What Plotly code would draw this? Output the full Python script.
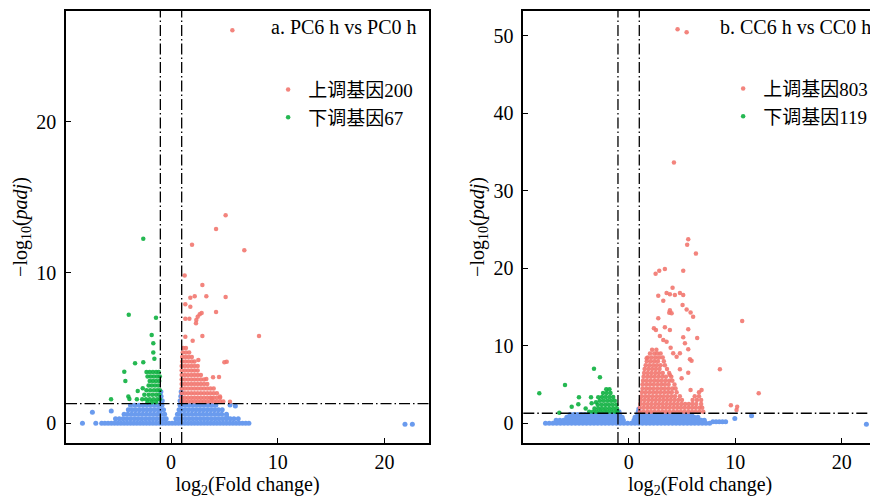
import plotly.graph_objects as go

# ---------------- data ----------------
# Panel a: PC6 h vs PC0 h  -- rows given as (y, [x values])
a_blue_rows = [
    (0.0, [-8.3, -7.05, -6.5, -6.2, -5.9, -5.6, -5.3, -5.0, -4.7, -4.4, -4.1, -3.8, -3.5, -3.2,
           -2.9, -2.6, -2.3, -2.0, -1.7, -1.4, -1.1, -0.8, -0.5, -0.2, 0.1, 0.4, 0.7, 1.0, 1.3,
           1.6, 1.9, 2.2, 2.5, 2.8, 3.1, 3.4, 3.7, 4.0, 4.3, 4.6, 4.9, 5.2, 5.5, 5.8, 6.1, 6.4,
           6.7, 7.0, 7.3]),
    (0.3, [-5.2, -4.85, -4.5, -4.15, -3.8, -3.45, -3.1, -2.75, -2.4, -2.05, -1.7, -1.35, -1.0,
           -0.7, -0.45, 0.45, 0.7, 1.0, 1.35, 1.7, 2.05, 2.4, 2.75, 3.1, 3.45, 3.8, 4.15, 4.5,
           4.85, 5.2, 5.55, 5.9, 6.3]),
    (0.6, [-4.4, -4.05, -3.7, -3.35, -3.0, -2.65, -2.3, -1.95, -1.6, -1.25, -0.95, -0.6, 0.6,
           0.9, 1.25, 1.6, 1.95, 2.3, 2.65, 3.0, 3.35, 3.7, 4.05, 4.4, 4.75, 5.2]),
    (0.9, [-4.0, -3.65, -3.3, -2.95, -2.6, -2.25, -1.9, -1.55, -1.2, -0.95, -0.7, 0.75, 0.98,
           1.3, 1.65, 2.0, 2.35, 2.7, 3.05, 3.4, 3.75, 4.1, 4.45, 4.8]),
    (1.2, [-3.8, -3.4, -3.0, -2.65, -2.3, -1.95, -1.6, -1.3, -1.05, -0.85, 0.85, 1.05, 1.4,
           1.75, 2.1, 2.45, 2.8, 3.15, 3.5, 3.85, 4.2]),
    (1.5, [-0.95, -0.82, 0.85, 0.97]),
    (1.8, [-0.93, 0.92]),
    (2.1, [-0.95, 0.95]),
]
a_blue_extra = [(-7.37, 0.73), (-5.6, 0.82), (5.22, 0.44), (6.03, 1.15), (5.53, 1.21),
                (21.93, -0.07), (22.62, -0.07)]

a_green_rows = [
    (3.4, [-2.3, -2.0, -1.7, -1.4, -1.15]),
    (3.1, [-2.2, -1.9, -1.6, -1.3, -1.05]),
    (2.8, [-2.0, -1.7, -1.4, -1.1]),
    (2.5, [-2.1, -1.8, -1.5, -1.2]),
    (2.2, [-2.3, -1.95, -1.6, -1.3, -1.05]),
    (1.9, [-2.5, -2.1, -1.75, -1.4, -1.1]),
    (1.6, [-2.7, -2.35, -2.0, -1.65, -1.3, -1.05]),
    (1.4, [-2.2, -1.8, -1.4]),
]
a_green_extra = [(-2.6, 12.25), (-3.96, 7.21), (-1.41, 7.01), (-1.81, 5.86), (-1.66, 5.31),
                 (-1.66, 4.69), (-1.56, 4.29), (-3.37, 3.98), (-2.6, 4.05), (-4.38, 3.42),
                 (-4.28, 2.81), (-2.65, 2.32), (-3.12, 2.14), (-5.62, 1.59), (-4.0, 1.77),
                 (-3.9, 1.61), (-3.2, 1.59)]

a_red_rows = [
    (5.0, [1.15, 1.4]),
    (4.7, [1.1, 1.4, 1.7]),
    (4.4, [1.05, 1.35, 1.65, 1.95]),
    (4.1, [1.05, 1.35, 1.65, 1.95, 2.2]),
    (3.8, [1.0, 1.3, 1.6, 1.9, 2.2, 2.5]),
    (3.5, [1.0, 1.3, 1.6, 1.9, 2.2, 2.5]),
    (3.2, [1.0, 1.3, 1.6, 1.9, 2.2, 2.5, 2.8]),
    (2.9, [1.0, 1.3, 1.6, 1.9, 2.2, 2.5, 2.8, 3.1]),
    (2.6, [1.0, 1.3, 1.6, 1.9, 2.2, 2.5, 2.8, 3.1, 3.4]),
    (2.3, [1.0, 1.3, 1.6, 1.9, 2.2, 2.5, 2.8, 3.1, 3.4, 3.7, 4.0]),
    (2.0, [1.0, 1.3, 1.6, 1.9, 2.2, 2.5, 2.8, 3.1, 3.4, 3.7, 4.0, 4.3]),
    (1.7, [1.0, 1.3, 1.6, 1.9, 2.2, 2.5, 2.8, 3.1, 3.4, 3.7, 4.0, 4.3, 4.6]),
    (1.45, [1.0, 1.3, 1.6, 1.9, 2.2, 2.5, 2.8, 3.1, 3.4, 3.7, 4.0, 4.3, 4.6, 4.9]),
]
a_red_extra = [(5.75, 26.08), (5.12, 13.8), (4.22, 12.9), (1.97, 11.85), (6.87, 11.48),
               (1.28, 9.8), (2.94, 9.18), (1.81, 8.33), (2.22, 8.43), (3.31, 8.43), (5.12, 8.38),
               (1.34, 7.9), (1.81, 7.74), (4.22, 7.39), (2.69, 7.23), (2.87, 7.32), (2.5, 7.07),
               (2.37, 6.85), (2.34, 6.64), (1.34, 6.94), (1.72, 6.94), (8.25, 5.79), (2.94, 5.79),
               (1.34, 5.75), (2.03, 5.48), (5.22, 4.09), (5.0, 4.05), (2.56, 4.2), (3.31, 2.94),
               (3.94, 3.05), (4.5, 3.07), (3.81, 1.66), (4.59, 1.77), (5.53, 1.43)]

# Panel b: CC6 h vs CC0 h
b_blue_rows = [
    (0.0, [-7.8, -7.45, -7.1, -6.75, -6.4, -6.05, -5.7, -5.35, -5.0, -4.65, -4.3, -3.95, -3.6,
           -3.25, -2.9, -2.55, -2.2, -1.85, -1.5, -1.15, -0.8, -0.45, -0.1, 0.25, 0.6, 0.95,
           1.3, 1.65, 2.0, 2.35, 2.7, 3.05, 3.4, 3.75, 4.1, 4.45, 4.8, 5.15, 5.5, 5.85, 6.2,
           6.55, 6.9, 7.25, 7.6]),
    (0.2, [7.9, 8.2, 8.5, 8.8, 9.1]),
    (0.4, [-6.8, -6.45, -6.1, -5.75, -5.4, -5.05, -4.7, -4.35, -4.0, -3.65, -3.3, -2.95, -2.6,
           -2.25, -1.9, -1.55, -1.2, -0.85, -0.5, 0.5, 0.85, 1.2, 1.55, 1.9, 2.25, 2.6, 2.95,
           3.3, 3.65, 4.0, 4.35, 4.7, 5.05, 5.4, 5.75, 6.1, 6.45, 6.8, 7.1]),
    (0.8, [-5.8, -5.45, -5.1, -4.75, -4.4, -4.05, -3.7, -3.35, -3.0, -2.65, -2.3, -1.95, -1.6,
           -1.25, -0.9, -0.6, 0.6, 0.9, 1.25, 1.6, 1.95, 2.3, 2.65, 3.0, 3.35, 3.7, 4.05, 4.4,
           4.75, 5.1, 5.45, 5.8, 6.15, 6.5]),
    (1.15, [-5.5, -5.15, -4.8, -4.45, -4.1, -3.75, -3.4, -3.05, -2.7, -2.35, -2.0, -1.65, -1.3,
            -1.0, -0.85, 0.85, 1.05, 1.4, 1.75, 2.1, 2.45, 2.8, 3.15, 3.5, 3.85, 4.2, 4.55,
            4.9, 5.25, 5.6, 5.9]),
    (1.5, [-0.9, 0.9]),
    (1.85, [0.95]),
]
b_blue_extra = [(9.96, 0.64), (11.53, 0.98), (22.3, -0.13)]

b_green_rows = [
    (4.4, [-2.1, -1.8]),
    (3.9, [-2.4, -2.05, -1.7]),
    (3.4, [-2.5, -2.15, -1.8, -1.45]),
    (2.9, [-2.7, -2.35, -2.0, -1.65, -1.3]),
    (2.4, [-2.9, -2.55, -2.2, -1.85, -1.5, -1.15]),
    (1.9, [-3.2, -2.85, -2.5, -2.15, -1.8, -1.45, -1.1]),
    (1.5, [-3.7, -3.35, -3.0, -2.65, -2.3, -1.95, -1.6, -1.25, -1.05]),
]
b_green_extra = [(-8.38, 3.87), (-5.97, 4.94), (-3.25, 7.05), (-2.69, 5.94), (-6.5, 1.35),
                 (-4.66, 3.35), (-4.72, 2.45), (-5.34, 2.15), (-4.03, 1.93), (-3.53, 3.35),
                 (-3.47, 2.58), (-3.06, 2.71), (-2.85, 3.35)]

b_red_rows = [
    (1.5, [1.05, 1.4, 1.75, 2.1, 2.45, 2.8, 3.15, 3.5, 3.85, 4.2, 4.55, 4.9, 5.25, 5.6, 5.95,
           6.3, 6.65, 7.0]),
    (2.0, [1.05, 1.4, 1.75, 2.1, 2.45, 2.8, 3.15, 3.5, 3.85, 4.2, 4.55, 4.9, 5.25, 5.6, 5.95,
           6.3, 6.65, 6.9]),
    (2.5, [1.1, 1.45, 1.8, 2.15, 2.5, 2.85, 3.2, 3.55, 3.9, 4.25, 4.6, 4.95, 5.3, 5.65, 6.0,
           6.35, 6.8]),
    (3.0, [1.15, 1.5, 1.85, 2.2, 2.55, 2.9, 3.25, 3.6, 3.95, 4.3, 4.65, 5.0, 6.0, 6.4, 6.8]),
    (3.5, [1.2, 1.55, 1.9, 2.25, 2.6, 2.95, 3.3, 3.65, 4.0, 4.35, 4.8, 6.2, 6.6]),
    (4.0, [1.25, 1.6, 1.95, 2.3, 2.65, 3.0, 3.35, 3.7, 4.05, 4.5, 6.6]),
    (4.5, [1.3, 1.65, 2.0, 2.35, 2.7, 3.05, 3.4, 3.75, 4.1, 4.4]),
    (5.0, [1.3, 1.65, 2.0, 2.35, 2.7, 3.05, 3.4, 3.75, 4.3]),
    (5.5, [1.35, 1.7, 2.05, 2.4, 2.75, 3.1, 3.45, 3.8, 4.1]),
    (6.0, [1.4, 1.75, 2.1, 2.45, 2.8, 3.15, 3.5, 4.0]),
    (6.5, [1.45, 1.8, 2.15, 2.5, 2.85, 3.2, 3.8]),
    (7.0, [1.5, 1.85, 2.2, 2.55, 2.9, 3.6]),
    (7.5, [1.6, 1.95, 2.3, 2.65, 3.0, 3.4]),
    (8.0, [1.7, 2.05, 2.4, 2.75, 3.3]),
    (8.5, [1.8, 2.15, 2.5, 2.85, 3.2]),
    (9.0, [2.0, 2.4, 2.7, 3.0]),
    (9.5, [2.2, 2.6]),
]
b_red_extra = [(4.59, 50.86), (5.44, 50.47), (4.25, 33.64), (5.59, 23.75), (5.49, 23.05),
               (6.31, 21.9), (2.53, 19.3), (2.87, 19.7), (3.4, 19.9), (5.12, 19.7), (4.12, 17.5),
               (3.56, 16.8), (3.87, 16.65), (4.34, 16.56), (4.81, 16.8), (5.12, 16.56),
               (2.78, 16.47), (3.25, 15.83), (3.87, 14.6), (4.03, 14.2), (3.81, 14.28),
               (5.06, 15.27), (5.44, 14.7), (5.81, 14.3), (6.05, 13.76), (2.78, 13.55),
               (10.65, 13.2), (2.37, 12.26), (2.56, 12.04), (3.4, 12.39), (3.87, 12.04),
               (5.59, 12.13), (6.43, 11.0), (2.93, 11.27), (3.25, 10.75), (3.56, 10.53),
               (5.12, 11.1), (5.28, 10.33), (5.59, 9.55), (5.75, 8.26), (5.9, 8.08),
               (3.94, 9.76), (4.18, 9.03), (4.5, 8.6), (4.81, 9.03), (4.81, 6.97), (5.59, 6.53),
               (4.97, 5.81), (8.56, 6.97), (12.2, 3.87), (1.69, 8.39), (3.87, 6.23), (5.81, 4.3),
               (6.84, 4.3), (9.59, 2.32), (10.12, 1.72), (10.18, 2.14)]

panel_titles = ["a. PC6 h vs PC0 h", "b. CC6 h vs CC0 h"]
up_labels = ["上调基因200", "上调基因803"]
down_labels = ["下调基因67", "下调基因119"]
fc_cut = [-1, 1]
padj_cut = 1.301
a_xticks = [0, 10, 20]
a_yticks = [0, 10, 20]
b_xticks = [0, 10, 20]
b_yticks = [0, 10, 20, 30, 40, 50]

# ---------------- helpers ----------------
def flatten(rows, extra):
    xs, ys = [], []
    for y, xl in rows:
        for x in xl:
            xs.append(x)
            ys.append(y)
    for x, y in extra:
        xs.append(x)
        ys.append(y)
    return xs, ys

RED = "#F2776F"
GREEN = "#0DB03F"
BLUE = "#6A9BEE"
FONT = "Liberation Serif, 'Times New Roman', 'Noto Sans CJK SC', serif"
FS = 20
LFS = 19

fig = go.Figure()

panels = [
    dict(blue=(a_blue_rows, a_blue_extra), green=(a_green_rows, a_green_extra),
         red=(a_red_rows, a_red_extra), xa="x", ya="y", legend="legend"),
    dict(blue=(b_blue_rows, b_blue_extra), green=(b_green_rows, b_green_extra),
         red=(b_red_rows, b_red_extra), xa="x2", ya="y2", legend="legend2"),
]

for i, p in enumerate(panels):
    bx, by = flatten(*p["blue"])
    gx, gy = flatten(*p["green"])
    rx, ry = flatten(*p["red"])
    fig.add_trace(go.Scatter(x=bx, y=by, mode="markers", xaxis=p["xa"], yaxis=p["ya"],
                             marker=dict(color=BLUE, size=5, line=dict(width=0)),
                             showlegend=False, hoverinfo="skip"))
    fig.add_trace(go.Scatter(x=rx, y=ry, mode="markers", xaxis=p["xa"], yaxis=p["ya"],
                             marker=dict(color=RED, size=4.5, opacity=0.9, line=dict(width=0)),
                             name=up_labels[i], legend=p["legend"]))
    fig.add_trace(go.Scatter(x=gx, y=gy, mode="markers", xaxis=p["xa"], yaxis=p["ya"],
                             marker=dict(color=GREEN, size=4.5, opacity=0.9, line=dict(width=0)),
                             name=down_labels[i], legend=p["legend"]))

DASH = "11px,3px,1.5px,3px"
shapes = []
for xref, yref in [("x", "y domain"), ("x2", "y2 domain")]:
    for c in fc_cut:
        shapes.append(dict(type="line", xref=xref, yref=yref, x0=c, x1=c, y0=0, y1=1,
                           line=dict(color="black", width=1.3, dash=DASH)))
for xref, yref in [("x domain", "y"), ("x2 domain", "y2")]:
    shapes.append(dict(type="line", xref=xref, yref=yref, x0=0, x1=1, y0=padj_cut, y1=padj_cut,
                       line=dict(color="black", width=1.3, dash=DASH)))

axis_common = dict(showline=True, linecolor="black", linewidth=1.5, mirror=True,
                   ticks="inside", ticklen=5, tickwidth=1.2, tickcolor="black",
                   showgrid=False, zeroline=False, automargin=False,
                   tickfont=dict(family=FONT, size=FS, color="black"))

ytitle = "−log<sub>10</sub>(<i>padj</i>)"
xtitle = "log<sub>2</sub>(Fold change)"

# page body has an 8px margin, so the figure is 870x490 starting at (8, 8)
fig.update_layout(
    width=870, height=490,
    margin=dict(l=0, r=0, t=0, b=0),
    paper_bgcolor="white", plot_bgcolor="white",
    font=dict(family=FONT, color="black"),
    shapes=shapes,
    xaxis=dict(domain=[0.0667, 0.4839], range=[-9.84, 24.18], tickvals=a_xticks,
               ticklabelstandoff=0,
               title=dict(text=xtitle, font=dict(family=FONT, size=FS), standoff=2),
               anchor="y", **axis_common),
    yaxis=dict(domain=[0.1122, 0.9939], range=[-1.31, 27.36], tickvals=a_yticks,
               ticklabelstandoff=4,
               title=dict(text=ytitle, font=dict(family=FONT, size=FS), standoff=3),
               anchor="x", **axis_common),
    xaxis2=dict(domain=[0.5923, 0.9989], range=[-9.88, 23.3], tickvals=b_xticks,
                ticklabelstandoff=0,
                title=dict(text=xtitle, font=dict(family=FONT, size=FS), standoff=2),
                anchor="y2", **axis_common),
    yaxis2=dict(domain=[0.1122, 0.9939], range=[-2.54, 53.2], tickvals=b_yticks,
                ticklabelstandoff=4,
                title=dict(text=ytitle, font=dict(family=FONT, size=FS), standoff=4),
                anchor="x2", **axis_common),
    legend=dict(x=0.299, y=0.872, xanchor="left", yanchor="top", bgcolor="rgba(0,0,0,0)",
                font=dict(family=FONT, size=LFS), itemsizing="trace", tracegroupgap=0),
    legend2=dict(x=0.822, y=0.874, xanchor="left", yanchor="top", bgcolor="rgba(0,0,0,0)",
                 font=dict(family=FONT, size=LFS), itemsizing="trace", tracegroupgap=0),
    annotations=[
        dict(text=panel_titles[0], xref="paper", yref="paper", x=0.4724, y=0.961,
             xanchor="right", yanchor="middle", showarrow=False,
             font=dict(family=FONT, size=FS, color="black")),
        dict(text=panel_titles[1], xref="paper", yref="paper", x=0.9943, y=0.961,
             xanchor="right", yanchor="middle", showarrow=False,
             font=dict(family=FONT, size=FS, color="black")),
    ],
)

fig.write_html("out.html")
